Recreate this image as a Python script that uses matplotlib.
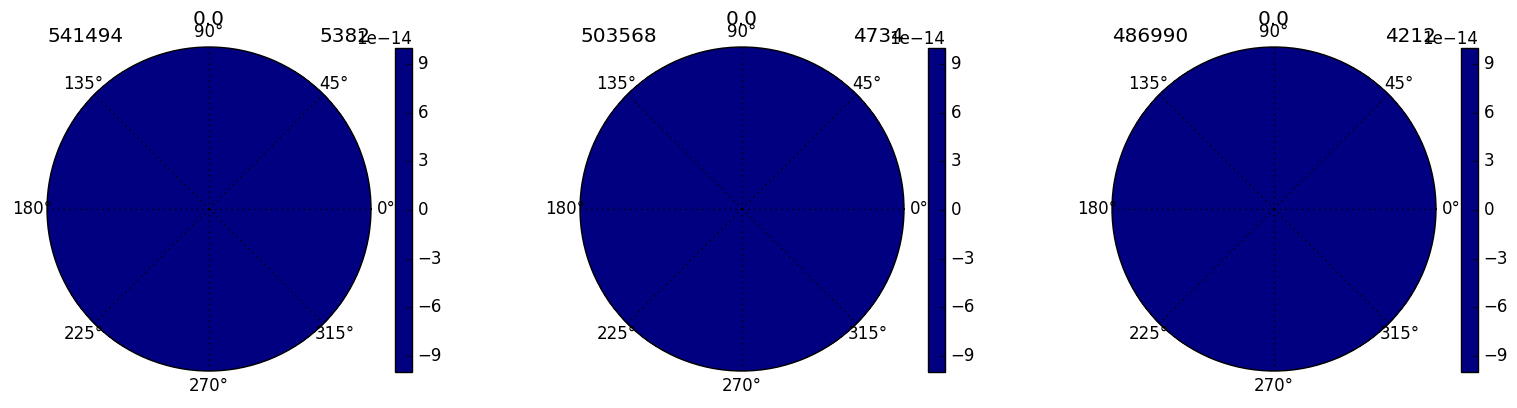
import numpy as np
import matplotlib
matplotlib.use('Agg')
import matplotlib.pyplot as plt
from matplotlib.colors import ListedColormap

plt.style.use('classic')

# panel titles
left_titles = ['541494', '503568', '486990']
right_titles = ['5382', '4734', '4212']
center_titles = ['0.0', '0.0', '0.0']

# polar grid and field (all zero)
theta = np.linspace(0, 2 * np.pi, 73)
r = np.linspace(0, 1, 21)
field = np.zeros((len(r) - 1, len(theta) - 1))

# colour range and colorbar ticks
vmin, vmax = -1e-13, 1e-13
cbar_ticks = [-9e-14, -6e-14, -3e-14, 0.0, 3e-14, 6e-14, 9e-14]

W, H = 1517, 408
fig = plt.figure(figsize=(W / 100, H / 100), dpi=100, facecolor='white')

cmap = ListedColormap(['#000080'])
centers = [209, 742, 1274]
cb_left = [395, 928, 1461]
rad = 162

for i in range(3):
    cx = centers[i]
    ax = fig.add_axes([(cx - rad) / W, (H - 371) / H, 2 * rad / W, 2 * rad / H],
                      projection='polar')
    T, R = np.meshgrid(theta, r)
    mesh = ax.pcolormesh(T, R, field, cmap=cmap, vmin=vmin, vmax=vmax,
                         antialiased=False, zorder=0)
    ax.set_ylim(0, 1)
    ax.set_yticks([])
    ax.set_axisbelow(False)
    ax.grid(True, color='black', linestyle=':', linewidth=1.0)
    ax.tick_params(labelsize=12)
    ax.set_title(center_titles[i], y=1 + 22 / 324, pad=0, fontsize=14.4)
    ax.set_title(left_titles[i], loc='left', y=1 + 5 / 324, pad=0, fontsize=14.4)
    ax.set_title(right_titles[i], loc='right', y=1 + 5 / 324, pad=0, fontsize=14.4)

    cax = fig.add_axes([cb_left[i] / W, (H - 372) / H, 17 / W, 324 / H])
    cb = fig.colorbar(mesh, cax=cax)
    cb.set_ticks(cbar_ticks)
    cb.ax.tick_params(labelsize=12)
    cb.ax.yaxis.get_offset_text().set_fontsize(12)

fig.savefig('out.png', dpi=100, facecolor='white')
